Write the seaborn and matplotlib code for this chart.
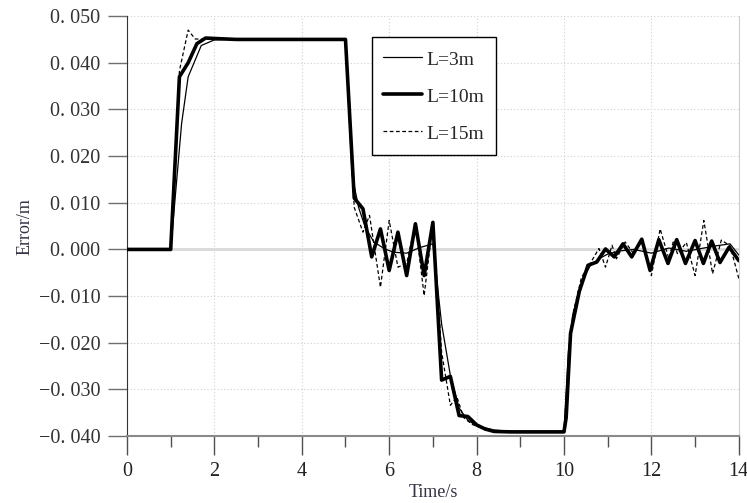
import numpy as np
import pandas as pd
import seaborn as sns
import matplotlib
matplotlib.use("Agg")
import matplotlib.pyplot as plt
from matplotlib.ticker import FuncFormatter, MultipleLocator

# L=3m (thin solid)
t_3m = [0.0, 1.0, 1.25, 1.4, 1.7, 2.0, 2.3, 5.0, 5.15, 5.3, 5.45, 5.65, 5.9, 6.1, 6.4,
        6.7, 7.0, 7.2, 7.4, 7.6, 7.8, 8.0, 8.4, 8.8, 10.0, 10.1, 10.2, 10.4, 10.6, 10.8,
        11.0, 11.3, 11.6, 12.0, 12.4, 12.8, 13.2, 13.5, 13.8, 14.0]
e_3m = [0.0, 0.0, 0.027, 0.037, 0.0437, 0.0449, 0.045, 0.045, 0.016, 0.009, 0.0048, 0.0016,
        0.0001, -0.0006, -0.0008, 0.0004, 0.0012, -0.016, -0.027, -0.034, -0.0366, -0.0378,
        -0.0387, -0.039, -0.039, -0.022, -0.014, -0.007, -0.0035, -0.002, -0.001, -0.0003,
        0.0, -0.0008, 0.0003, -0.0004, 0.0003, 0.0008, 0.0012, -0.0012]

# L=10m (thick solid)
t_10m = [0.0, 1.0, 1.2, 1.4, 1.6, 1.8, 2.0, 2.5, 5.0, 5.2, 5.4, 5.6, 5.8, 6.0, 6.2, 6.4,
         6.6, 6.8, 7.0, 7.2, 7.4, 7.6, 7.8, 8.0, 8.2, 8.4, 8.8, 10.0, 10.05, 10.15, 10.35,
         10.55, 10.75, 10.95, 11.15, 11.35, 11.55, 11.78, 11.97, 12.17, 12.38, 12.58, 12.78,
         13.0, 13.19, 13.38, 13.57, 13.78, 14.0]
e_10m = [0.0, 0.0, 0.037, 0.040, 0.0441, 0.0453, 0.0452, 0.045, 0.045, 0.011, 0.0087,
         -0.0016, 0.0044, -0.0045, 0.0037, -0.0056, 0.0055, -0.0056, 0.0058, -0.028, -0.0272,
         -0.0356, -0.0358, -0.0376, -0.0385, -0.039, -0.0391, -0.0391, -0.036, -0.018, -0.009,
         -0.0034, -0.0027, 0.0001, -0.0016, 0.0012, -0.0016, 0.0022, -0.0045, 0.0021, -0.003,
         0.0021, -0.003, 0.0019, -0.003, 0.0018, -0.0028, 0.0005, -0.0024]

# L=15m (dashed)
t_15m = [0.0, 1.0, 1.2, 1.4, 1.56, 2.0, 5.0, 5.2, 5.4, 5.55, 5.8, 6.0, 6.2, 6.4, 6.6, 6.8,
         7.0, 7.2, 7.4, 7.55, 7.7, 7.9, 8.2, 8.6, 10.0, 10.1, 10.2, 10.4, 10.6, 10.8, 10.95,
         11.1, 11.2, 11.4, 11.6, 11.8, 12.0, 12.2, 12.4, 12.5, 12.6, 12.8, 13.0, 13.2, 13.4,
         13.6, 13.8, 14.0]
e_15m = [0.0, 0.0, 0.0383, 0.047, 0.0451, 0.045, 0.045, 0.009, 0.0037, 0.0073, -0.0081,
         0.0062, -0.0038, -0.003, 0.0056, -0.0099, 0.0058, -0.022, -0.0334, -0.0316, -0.036,
         -0.0375, -0.0386, -0.039, -0.039, -0.025, -0.014, -0.006, -0.003, 0.0002, -0.0038,
         0.0009, -0.002, 0.0016, -0.001, 0.002, -0.0056, 0.0044, -0.002, 0.0016, -0.001,
         0.0015, -0.0056, 0.0062, -0.0052, 0.002, 0.0008, -0.0062]

sns.set_style("white")
plt.rcParams['font.family'] = ['Liberation Serif', 'DejaVu Serif']
plt.rcParams['axes.unicode_minus'] = True

fig = plt.figure(figsize=(7.47, 5.03), dpi=100)
ax = fig.add_axes([0.170, 0.133, 0.819, 0.835])

ax.axhline(0, color='#d9d9d9', lw=2, zorder=1)

sns.lineplot(x=t_3m, y=e_3m, ax=ax, color='black', lw=0.9, sort=False,
             estimator=None, label='L=3m', zorder=3)
sns.lineplot(x=t_10m, y=e_10m, ax=ax, color='black', lw=2.6, sort=False,
             estimator=None, label='L=10m', zorder=4)
sns.lineplot(x=t_15m, y=e_15m, ax=ax, color='black', lw=0.9, sort=False,
             estimator=None, label='L=15m', zorder=5, linestyle=(0, (3, 2)))

ax.set_xlim(0, 14)
ax.set_ylim(-0.04, 0.05)
ax.xaxis.set_major_locator(MultipleLocator(2))
ax.xaxis.set_minor_locator(MultipleLocator(1))
ax.yaxis.set_major_locator(MultipleLocator(0.01))


def fmt(v, pos):
    s = f"{abs(v):.3f}".replace(".", ". ")
    return ("\u2212" + s) if v < -1e-9 else s


ax.yaxis.set_major_formatter(FuncFormatter(fmt))
ax.grid(True, which='major', color='#d0d0d0', linestyle=(0, (1, 2)), lw=0.8)

ax.tick_params(axis='y', which='major', direction='out', length=14, width=1,
               color='#707070', labelsize=14.5, labelcolor='#333333', pad=5, left=True)
ax.tick_params(axis='x', which='major', direction='out', length=14, width=1,
               color='#505050', labelsize=14.5, labelcolor='#222222', pad=5, bottom=True)
ax.tick_params(axis='x', which='minor', direction='out', length=8, width=1,
               color='#505050', bottom=True)

for side in ['top']:
    ax.spines[side].set_visible(False)
ax.spines['right'].set_color('#d0d0d0')
ax.spines['left'].set_color('#333333')
ax.spines['bottom'].set_color('#8a8a8a')
ax.spines['bottom'].set_linewidth(1.5)

ax.set_xlabel('Time/s', fontsize=13, color='#333344', labelpad=2)
ax.set_ylabel('Error/m', fontsize=13, color='#333344', labelpad=4)

leg = ax.legend(loc='upper left', bbox_to_anchor=(0.40, 0.95), fontsize=14,
                frameon=True, fancybox=False, edgecolor='black', framealpha=1,
                handlelength=2.0, handleheight=1.2, labelspacing=0.85, borderpad=0.6,
                handletextpad=0.2, borderaxespad=0)
leg.get_frame().set_linewidth(1.0)

fig.savefig('out.png', dpi=100)
